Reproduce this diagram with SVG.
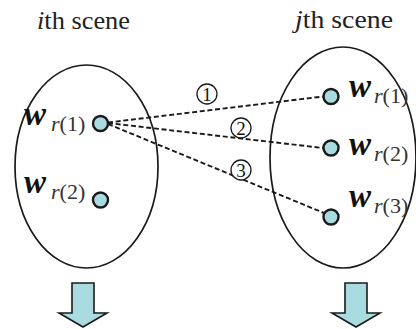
<svg xmlns="http://www.w3.org/2000/svg" width="416" height="329" viewBox="0 0 416 329">
<style>
.scene{fill:none;stroke:#1a1a1a;stroke-width:1.7}
.node{fill:#a9dbe0;stroke:#1a1a1a;stroke-width:2.4}
.dash{fill:none;stroke:#1a1a1a;stroke-width:1.9;stroke-dasharray:5 2.7}
.num{fill:#fff;stroke:#1a1a1a;stroke-width:1.3}
.arrow{fill:#a9dbe0;stroke:#1a1a1a;stroke-width:1.6;stroke-linejoin:miter}
</style>
<rect width="416" height="329" fill="#fff"/>
<text x="37" y="29" font-family="Liberation Serif" font-size="26" fill="#222" textLength="93" lengthAdjust="spacingAndGlyphs"><tspan font-style="italic">i</tspan>th scene</text>
<text x="295" y="28" font-family="Liberation Serif" font-size="26" fill="#222" textLength="98" lengthAdjust="spacingAndGlyphs"><tspan font-style="italic">j</tspan>th scene</text>
<g id="sceneI">
<ellipse class="scene" cx="86.5" cy="166.5" rx="71.5" ry="101.5"/>
</g>
<g id="sceneJ">
<ellipse class="scene" cx="343" cy="157.5" rx="73" ry="110.5"/>
</g>
<g id="connectors">
<line class="dash" x1="108" y1="122.5" x2="323" y2="96.5"/>
<line class="dash" x1="108" y1="123" x2="323" y2="148"/>
<line class="dash" x1="108" y1="124" x2="324" y2="213"/>
<circle class="num" cx="207" cy="94" r="10"/><text x="207" y="100.5" font-family="Liberation Serif" font-size="19" text-anchor="middle" fill="#111">1</text>
<circle class="num" cx="241" cy="128" r="10"/><text x="241" y="134.5" font-family="Liberation Serif" font-size="19" text-anchor="middle" fill="#111">2</text>
<circle class="num" cx="241" cy="170" r="10"/><text x="241" y="176.5" font-family="Liberation Serif" font-size="19" text-anchor="middle" fill="#111">3</text>
</g>
<g id="wi1">
<circle class="node" cx="100.5" cy="123.5" r="7.5"/>
<text x="24" y="125" font-family="Liberation Serif" font-size="33" font-weight="bold" font-style="italic" fill="#111">w</text>
<text x="51" y="131" font-family="Liberation Serif" font-size="22" fill="#333"><tspan font-style="italic">r</tspan>(1)</text>
</g>
<g id="wi2">
<circle class="node" cx="100.5" cy="200" r="7.5"/>
<text x="24" y="193" font-family="Liberation Serif" font-size="33" font-weight="bold" font-style="italic" fill="#111">w</text>
<text x="51" y="199" font-family="Liberation Serif" font-size="22" fill="#333"><tspan font-style="italic">r</tspan>(2)</text>
</g>
<g id="wj1">
<circle class="node" cx="331" cy="96.5" r="7.5"/>
<text x="349" y="97" font-family="Liberation Serif" font-size="33" font-weight="bold" font-style="italic" fill="#111">w</text>
<text x="374" y="103" font-family="Liberation Serif" font-size="22" fill="#333"><tspan font-style="italic">r</tspan>(1)</text>
</g>
<g id="wj2">
<circle class="node" cx="331" cy="148" r="7.5"/>
<text x="349" y="155" font-family="Liberation Serif" font-size="33" font-weight="bold" font-style="italic" fill="#111">w</text>
<text x="374" y="161" font-family="Liberation Serif" font-size="22" fill="#333"><tspan font-style="italic">r</tspan>(2)</text>
</g>
<g id="wj3">
<circle class="node" cx="331" cy="217" r="7.5"/>
<text x="349" y="207" font-family="Liberation Serif" font-size="33" font-weight="bold" font-style="italic" fill="#111">w</text>
<text x="374" y="213" font-family="Liberation Serif" font-size="22" fill="#333"><tspan font-style="italic">r</tspan>(3)</text>
</g>
<g id="arrowI">
<path class="arrow" d="M72,283 H94 V313 H107 L83,327 L59,313 H72 Z"/>
</g>
<g id="arrowJ">
<path class="arrow" d="M345,283 H367 V313 H380 L356,327 L332,313 H345 Z"/>
</g>
</svg>
